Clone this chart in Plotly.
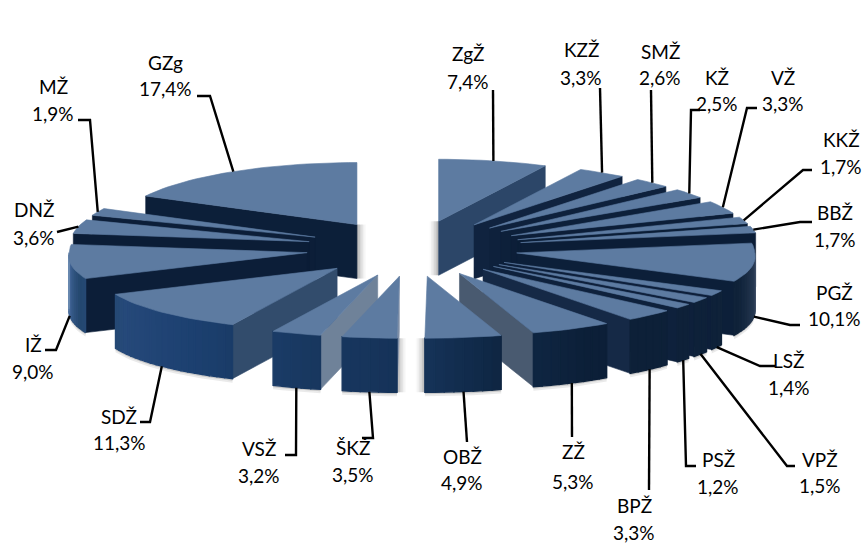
import math
import plotly.graph_objects as go

# ---- data (clockwise from the top of the pie) ----
categories = ["ZgŽ", "KZŽ", "SMŽ", "KŽ", "VŽ", "KKŽ", "BBŽ", "PGŽ", "LSŽ", "VPŽ", "PSŽ",
              "BPŽ", "ZŽ", "OBŽ", "ŠKŽ", "VSŽ", "SDŽ", "IŽ", "DNŽ", "MŽ", "GZg"]
shares = [7.4, 3.3, 2.6, 2.5, 3.3, 1.7, 1.7, 10.1, 1.4, 1.5, 1.2,
          3.3, 5.3, 4.9, 3.5, 3.2, 11.3, 9.0, 3.6, 1.9, 17.4]

# ---- layout / style (not data) ----
W, H = 862, 543
CX, CY = 412, 248.5
RX, RY = 238, 62
EX, EY = 106, 28
DEPTH = 54
FRONT_WIDEN = 0.06      # perspective: the near part of the rim is a little wider
BACK_RIGHT_SHIFT = 5    # the far-right slices sit a little further right
TOP = "#5d7ba1"
LABEL_CENTERS = {
    "GZg": (165, 62, 88), "MŽ": (53, 86, 113), "DNŽ": (34, 209, 237), "IŽ": (33, 344, 371),
    "SDŽ": (119, 416, 442), "VSŽ": (259, 448, 475), "ŠKŽ": (353, 447, 474), "OBŽ": (462, 456, 482),
    "ZŽ": (573, 451, 481), "BPŽ": (634, 505, 532), "PSŽ": (718, 459, 486), "VPŽ": (820, 459, 485),
    "LSŽ": (789, 360, 387), "PGŽ": (834, 292, 318), "BBŽ": (835, 212, 239), "KKŽ": (841, 139, 166),
    "VŽ": (783, 77, 103), "KŽ": (717, 77, 103), "SMŽ": (660, 51, 77), "KZŽ": (581, 49, 77),
    "ZgŽ": (468, 53, 81),
}
LEADER_ELBOWS = {
    "GZg": [(210, 96), (197, 96)], "MŽ": [(90, 120), (78, 120)], "DNŽ": [(57, 232)],
    "IŽ": [(56, 350), (45, 350)], "SDŽ": [(150, 422), (140, 422)], "VSŽ": [(296, 455), (285, 455)],
    "ŠKŽ": [(373, 438), (362, 438)], "OBŽ": [(467, 442)], "ZŽ": [(572, 437)], "BPŽ": [(649, 490)],
    "PSŽ": [(686, 466), (696, 466)], "VPŽ": [(787, 466), (795, 466)], "LSŽ": [(760, 366), (775, 366)],
    "PGŽ": [(790, 325), (800, 325)], "BBŽ": [(800, 222), (812, 222)], "KKŽ": [(803, 170), (812, 170)],
    "VŽ": [(747, 108), (757, 108)], "KŽ": [(691, 110), (700, 110)], "SMŽ": [(651, 90)],
    "KZŽ": [(600, 88)], "ZgŽ": [(493, 90)],
}
RIM_STOPS = [(90, "#56677c"), (100, "#2a3c55"), (115, "#0f2239"), (150, "#0c1f38"), (165, "#0f2744"),
             (180, "#153258"), (195, "#18375f"), (215, "#1c4070"), (240, "#26497a"), (250, "#24486f"),
             (262, "#3f6294"), (270, "#7090b4")]
WALL_STOPS = [(0.0, "#8090a8"), (0.23, "#6f8299"), (0.29, "#4a5a70"), (0.43, "#2f4a6c"),
              (0.62, "#10233f"), (1.0, "#0b1d36")]


def rgb(h):
    return tuple(int(h[i:i + 2], 16) for i in (1, 3, 5))


def ramp(stops, v):
    if v <= stops[0][0]:
        return stops[0][1]
    for (a, ca), (b, cb) in zip(stops, stops[1:]):
        if v <= b:
            t = (v - a) / (b - a)
            ra, rb = rgb(ca), rgb(cb)
            return "#%02x%02x%02x" % tuple(round(x + (y - x) * t) for x, y in zip(ra, rb))
    return stops[-1][1]


fig = go.Figure()


def poly(pts, color, opacity=1.0, width=0.6):
    xs = [p[0] for p in pts] + [pts[0][0]]
    ys = [p[1] for p in pts] + [pts[0][1]]
    fig.add_trace(go.Scatter(x=xs, y=ys, mode="lines", fill="toself", fillcolor=color,
                             opacity=opacity,
                             line=dict(color=color, width=width),
                             hoverinfo="skip", showlegend=False))


total = sum(shares)
slices = []
acc = 0.0
for name, v in zip(categories, shares):
    a0 = acc / total * 360
    acc += v
    a1 = acc / total * 360
    slices.append(dict(name=name, v=v, a0=a0, a1=a1, m=(a0 + a1) / 2))


def apex(s):
    r = math.radians(s["m"])
    shift = BACK_RIGHT_SHIFT * min(1, s["m"] / 30) if s["m"] < 85 else 0
    return CX + EX * math.sin(r) + shift, CY - EY * math.cos(r)


def rim(s, deg):
    ax, ay = apex(s)
    r = math.radians(deg)
    widen = 1 + FRONT_WIDEN * max(0, -math.cos(r))
    return ax + RX * widen * math.sin(r), ay - RY * math.cos(r)


def wall(s, deg):
    ax, ay = apex(s)
    x, y = rim(s, deg)
    col = ramp(WALL_STOPS, abs(math.sin(math.radians(deg))))
    poly([(ax, ay), (x, y), (x, y + DEPTH), (ax, ay + DEPTH)], col)


def soft_edge(x, y0, y1, direction):
    for i in range(6):
        poly([(x + direction * i * 1.5, y0), (x + direction * (i + 1) * 1.5, y0),
              (x + direction * (i + 1) * 1.5, y1), (x + direction * i * 1.5, y1)],
             "#666666", opacity=0.5 * (1 - i / 6) ** 1.5, width=0)


for s in sorted(slices, key=lambda q: -math.cos(math.radians(q["m"]))):
    ax, ay = apex(s)
    # soft shadows beside edge-on walls (back pair: along the wall; front pair: along the rim)
    if s["a1"] > 355:
        soft_edge(ax, ay, ay + DEPTH, 1)
    if s["a0"] < 5:
        soft_edge(ax, ay, ay + DEPTH, -1)
    if 178 < s["a0"] < 182:
        rx_, ry_ = rim(s, s["a0"])
        soft_edge(rx_, ry_, ry_ + DEPTH, 1)
    if 178 < s["a1"] < 182:
        rx_, ry_ = rim(s, s["a1"])
        soft_edge(rx_, ry_, ry_ + DEPTH, -1)
    # radial walls that face the viewer
    if 180 < s["a0"] < 360:
        wall(s, s["a0"])
    if 0 < s["a1"] < 180:
        wall(s, s["a1"])
    # outer rim, in strips so the shading changes along it
    lo, hi = max(s["a0"], 90), min(s["a1"], 270)
    if hi > lo:
        n = max(2, int((hi - lo) / 2))
        # faint contact shadow under the rim
        base = [rim(s, lo + (hi - lo) * i / n) for i in range(n + 1)]
        for off, op in ((4.0, 0.12), (2.0, 0.22)):
            poly([(x, y + DEPTH) for x, y in base] + [(x, y + DEPTH + off) for x, y in reversed(base)],
                 "#555555", opacity=op, width=0)
        for i in range(n):
            d0 = lo + (hi - lo) * i / n
            d1 = lo + (hi - lo) * (i + 1) / n
            x0, y0 = rim(s, d0)
            x1, y1 = rim(s, d1)
            poly([(x0, y0), (x1, y1), (x1, y1 + DEPTH), (x0, y0 + DEPTH)],
                 ramp(RIM_STOPS, (d0 + d1) / 2), width=1.4)
    # top face
    n = max(3, int((s["a1"] - s["a0"]) / 2))
    arc = [rim(s, s["a0"] + (s["a1"] - s["a0"]) * i / n) for i in range(n + 1)]
    poly([(ax, ay)] + arc, TOP)

# leaders and labels
annotations = []
for s in slices:
    r_front = 90 < s["m"] < 270
    x, y = rim(s, s["m"])
    if r_front:
        y += DEPTH
    pts = [(x, y)] + LEADER_ELBOWS[s["name"]]
    fig.add_trace(go.Scatter(x=[p[0] for p in pts], y=[p[1] for p in pts], mode="lines",
                             line=dict(color="black", width=2.4), hoverinfo="skip", showlegend=False))
    cx, y1, y2 = LABEL_CENTERS[s["name"]]
    for yy, txt in ((y1, s["name"]), (y2, f"{s['v']:.1f}".replace(".", ",") + "%")):
        annotations.append(dict(x=cx, y=yy, text=txt, showarrow=False, xanchor="center", yanchor="middle",
                                font=dict(family="Lato", size=19, color="black")))

fig.update_layout(
    width=W, height=H, margin=dict(l=0, r=0, t=0, b=0), showlegend=False,
    paper_bgcolor="white", plot_bgcolor="white", annotations=annotations,
    xaxis=dict(range=[0, W], visible=False, fixedrange=True),
    yaxis=dict(range=[H, 0], visible=False, fixedrange=True),
)
fig.write_html("out.html", config=dict(displayModeBar=False),
               post_script="document.body.style.margin='0';document.body.style.overflow='hidden';")
